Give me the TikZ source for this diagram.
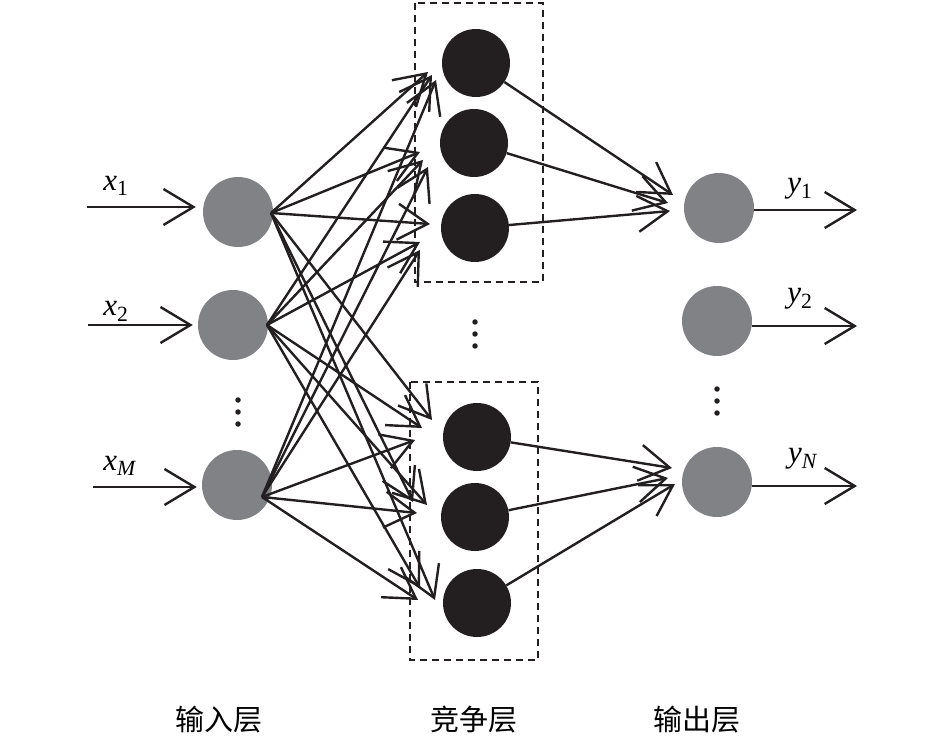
\documentclass[tikz,border=0pt]{standalone}
\usepackage{fontspec}
\setmainfont{Liberation Serif}
\newfontfamily\tms{Liberation Serif}
\newfontfamily\cjk{Noto Sans CJK SC}
\usetikzlibrary{arrows.meta,calc}
\definecolor{ink}{HTML}{231F20}
\definecolor{greyn}{HTML}{808285}
\tikzset{
  arr/.style={-{Straight Barb[length=30pt,width=36pt]}, line width=2.4pt, draw=ink},
  inode/.style={circle, fill=greyn, minimum size=70pt, inner sep=0pt},
  cnode/.style={circle, fill=ink, minimum size=68pt, inner sep=0pt},
  dbox/.style={draw=ink, dashed, dash pattern=on 7pt off 5pt, line width=2.2pt},
  lbl/.style={font=\tms\fontsize{31}{33}\selectfont, inner sep=0pt},
  layer/.style={font=\cjk\fontsize{29}{32}\selectfont, inner sep=0pt},
  dot/.style={circle, fill=ink, minimum size=5.5pt, inner sep=0pt},
}
\begin{document}
\begin{tikzpicture}[x=1pt,y=-1pt]
\useasboundingbox (0,0) rectangle (946,738);
% dashed boxes
\draw[dbox] (415,3) rectangle (543,282);
\draw[dbox] (410,382) rectangle (538,660);
% input nodes
\node[inode] (I1) at (238,212) {};
\node[inode] (I2) at (233,325) {};
\node[inode] (IM) at (237,485) {};
% competition nodes
\node[cnode] (C1) at (476,63) {};
\node[cnode] (C2) at (474,143) {};
\node[cnode] (C3) at (475,228) {};
\node[cnode] (C4) at (477,437) {};
\node[cnode] (C5) at (475,517) {};
\node[cnode] (C6) at (477,603) {};
% output nodes
\node[inode] (O1) at (719,208) {};
\node[inode] (O2) at (717,321) {};
\node[inode] (ON) at (717,482) {};
% input arrows
\coordinate (xs1) at (87,207);
\coordinate (xs2) at (88,325);
\coordinate (xsM) at (93,487);
\draw[arr, shorten >=7pt] (xs1) -- (I1.west |- xs1);
\draw[arr, shorten >=5pt] (xs2) -- (I2.west |- xs2);
\draw[arr, shorten >=5pt] (xsM) -- (IM.west |- xsM);
\node[lbl] (lx1) at (116,186) {\textit{x}\textsubscript{1}};
\node[lbl] (lx2) at (116,311) {\textit{x}\textsubscript{2}};
\node[lbl] (lxM) at (120,466) {\textit{x}\textsubscript{\textit{M}}};
% output arrows
\coordinate (ye1) at (857,210);
\coordinate (ye2) at (857,326);
\coordinate (yeN) at (857,486);
\draw[arr] (O1.east |- ye1) -- (ye1);
\draw[arr] (O2.east |- ye2) -- (ye2);
\draw[arr] (ON.east |- yeN) -- (yeN);
\node[lbl] (ly1) at (800,189) {\textit{y}\textsubscript{1}};
\node[lbl] (ly2) at (800,299) {\textit{y}\textsubscript{2}};
\node[lbl] (lyN) at (803,459) {\textit{y}\textsubscript{\textit{N}}};
% start points on input nodes
\coordinate (s1) at ($(I1.center)+(33,1)$);
\coordinate (s2) at ($(I2.center)+(34,0)$);
\coordinate (sM) at ($(IM.center)+(25,12)$);
% input -> competition endpoints
\coordinate (e11) at (428,72);  \coordinate (e21) at (432,75);  \coordinate (eM1) at (436,80);
\coordinate (e12) at (420,152); \coordinate (e22) at (423,160); \coordinate (eM2) at (428,167);
\coordinate (e13) at (430,224); \coordinate (e23) at (420,242); \coordinate (eM3) at (420,250);
\coordinate (e14) at (432,420); \coordinate (e24) at (422,428); \coordinate (eM4) at (415,440);
\coordinate (e15) at (413,502); \coordinate (e25) at (427,505); \coordinate (eM5) at (417,513);
\coordinate (e16) at (435,600); \coordinate (e26) at (420,588); \coordinate (eM6) at (418,600);
\foreach \k in {1,...,6}{
  \draw[arr] (s1) -- (e1\k);
  \draw[arr] (s2) -- (e2\k);
  \draw[arr] (sM) -- (eM\k);
}
% competition -> output
\coordinate (o1) at (673,195); \coordinate (o2) at (668,203); \coordinate (o3) at (670,211);
\coordinate (o4) at (672,468); \coordinate (o5) at (668,478); \coordinate (o6) at (675,484);
\foreach \k in {1,...,6}{
  \draw[arr] (C\k) -- (o\k);
}
% dots
\node[dot] (d1a) at (238,400) {}; \node[dot] (d1b) at (238,412) {}; \node[dot] (d1c) at (238,424) {};
\node[dot] (d2a) at (475,322) {}; \node[dot] (d2b) at (475,334) {}; \node[dot] (d2c) at (475,346) {};
\node[dot] (d3a) at (717,389) {}; \node[dot] (d3b) at (717,401) {}; \node[dot] (d3c) at (717,413) {};
% layer labels
\node[layer] (L1) at (219,720) {输入层};
\node[layer] (L2) at (474,720) {竞争层};
\node[layer] (L3) at (697,720) {输出层};
\end{tikzpicture}
\end{document}
